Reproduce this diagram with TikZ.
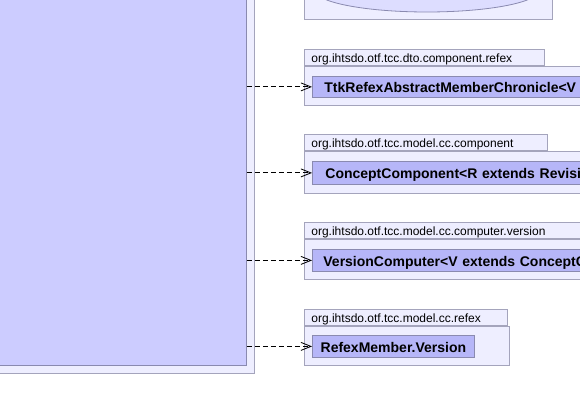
\documentclass[tikz,border=0pt]{standalone}
\usepackage{fontspec}
\setmainfont{Liberation Sans}
\usepackage{xcolor}
\usepackage{tikz}
\usetikzlibrary{arrows.meta, positioning, shapes.geometric}
\definecolor{pkgfill}{HTML}{EEEEFF}
\definecolor{pkgline}{HTML}{A4A4BC}
\definecolor{clsfill}{HTML}{B6B6F8}
\definecolor{bigfill}{HTML}{CCCCFF}
\definecolor{clsline}{HTML}{8A8AB0}
\definecolor{ellfill}{HTML}{DDDDFF}

\begin{document}
\begin{tikzpicture}[x=1pt, y=-1pt, >={Straight Barb[length=10pt, width=8pt]},
                    line width=0.8pt]
\tikzstyle{pkg}=[rectangle, draw=pkgline, fill=pkgfill, inner sep=0pt, anchor=north west]
\tikzstyle{pkgtab}=[pkg, anchor=south west, inner xsep=7pt, inner ysep=1pt, align=left,
                    font=\fontsize{12}{12}\selectfont, text height=11pt, text depth=1pt,
                    minimum height=16pt]
\tikzstyle{cls}=[rectangle, draw=clsline, fill=clsfill, anchor=north west, align=left,
                    font=\bfseries\fontsize{14}{14}\selectfont, text height=13pt, text depth=1pt,
                    inner ysep=2pt]
\tikzstyle{dep}=[->, black, dash pattern=on 5pt off 3pt]
  \useasboundingbox (0,0) rectangle (580,411);
  \clip (0,0) rectangle (580,411);
  % left package with its class
  \node[pkg, minimum width=274pt, minimum height=393pt] (leftPkg) at (-20,-20) {};
  \node[pkg, draw=clsline, fill=bigfill, minimum width=266pt, minimum height=385pt] (leftCls) at (-20,-20) {};
  % package on top
  \node[pkg, minimum width=248pt, minimum height=59pt] (topPkg) at (304,-40) {};
  \node[ellipse, draw=clsline, fill=ellfill, minimum width=225pt, minimum height=44pt] (topEll) at (427,-10) {};
  % dto.component.refex
  \node[pkg, minimum width=300pt, minimum height=39pt] (dtoPkg) at (304,66) {};
  \node[pkgtab, text width=226pt] (dtoTab) at (dtoPkg.north west) {org.ihtsdo.otf.tcc.dto.component.refex};
  \node[cls, inner xsep=12pt, text width=280pt, minimum height=21pt] (ttkCls) at (312,76) {TtkRefexAbstractMemberChronicle<V};
  % model.cc.component
  \node[pkg, minimum width=300pt, minimum height=42pt] (compPkg) at (304,151) {};
  \node[pkgtab, text width=229pt] (compTab) at (compPkg.north west) {org.ihtsdo.otf.tcc.model.cc.component};
  \node[cls, inner xsep=13pt, text width=280pt, minimum height=23pt] (conceptCls) at (312,161) {ConceptComponent<R extends Revisi};
  % model.cc.computer.version
  \node[pkg, minimum width=300pt, minimum height=40pt] (versPkg) at (304,239) {};
  \node[pkgtab, text width=300pt] (versTab) at (versPkg.north west) {org.ihtsdo.otf.tcc.model.cc.computer.version};
  \node[cls, inner xsep=11pt, text width=280pt, minimum height=22pt] (versCls) at (312,249) {VersionComputer<V extends ConceptC};
  % model.cc.refex
  \node[pkg, minimum width=205pt, minimum height=39pt] (refexPkg) at (304,326) {};
  \node[pkgtab, text width=189pt] (refexTab) at (refexPkg.north west) {org.ihtsdo.otf.tcc.model.cc.refex};
  \node[cls, inner xsep=7pt, minimum width=162pt, minimum height=22pt] (memberCls) at (312,335) {RefexMember.Version};
  % dependencies
  \draw[dep] (leftCls.east |- ttkCls.west)     -- (ttkCls.west);
  \draw[dep] (leftCls.east |- conceptCls.west) -- (conceptCls.west);
  \draw[dep] (leftCls.east |- versCls.west)    -- (versCls.west);
  \draw[dep] (leftCls.east |- memberCls.west)  -- (memberCls.west);
\end{tikzpicture}
\end{document}
